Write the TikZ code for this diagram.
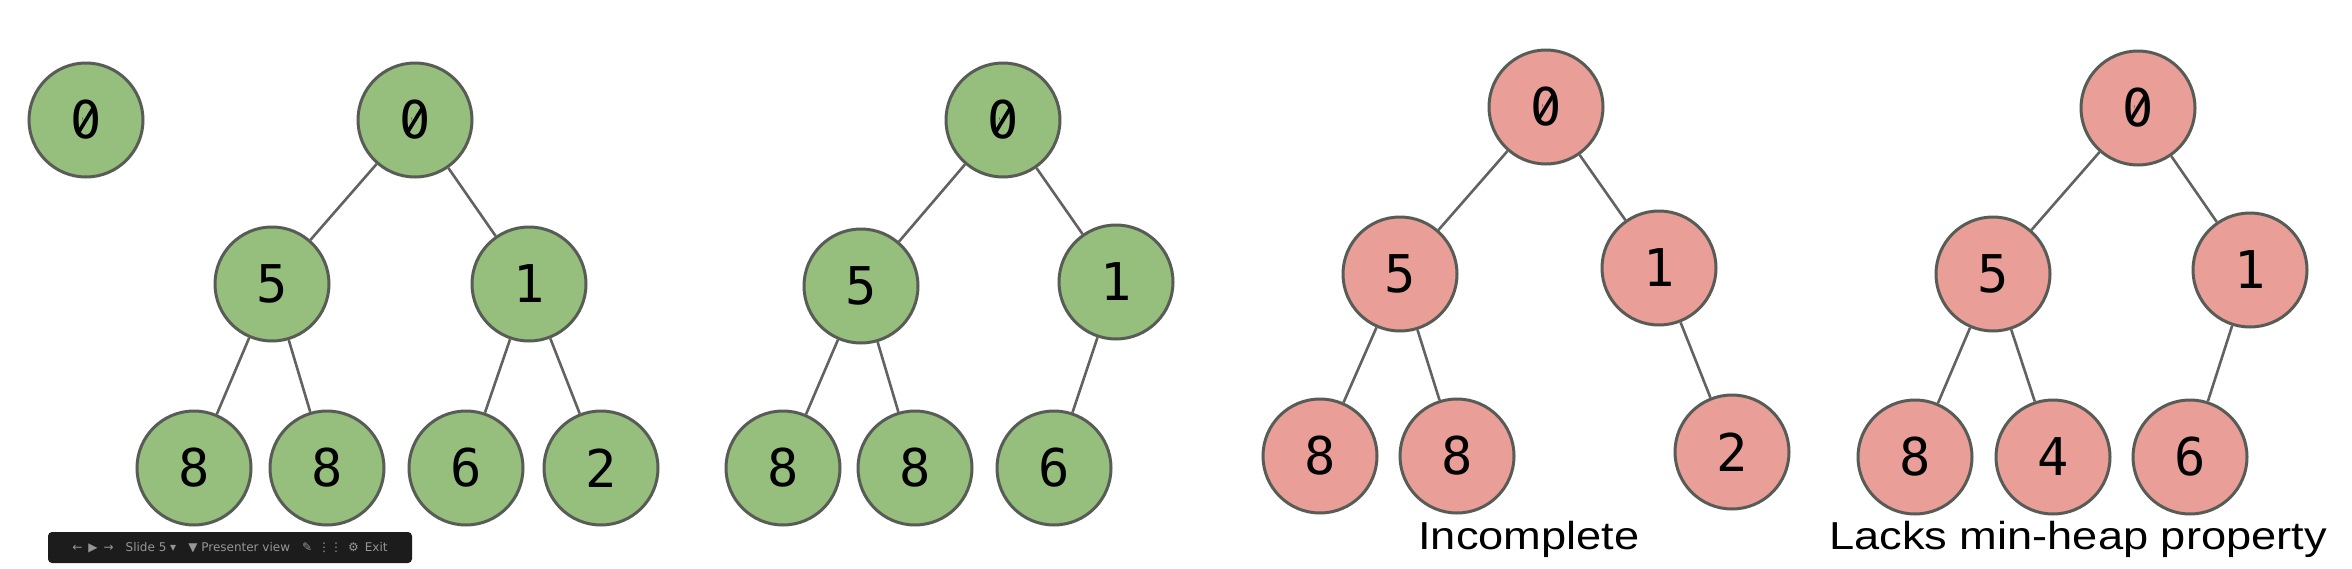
\documentclass[tikz,border=0pt]{standalone}
\usepackage{fontspec}
\setmainfont{Liberation Sans}
\newfontfamily\keyfont{DejaVu Sans Mono}
\newfontfamily\captionfont[FakeStretch=1.16]{Liberation Sans}
\newfontfamily\barfont{DejaVu Sans}
\usepackage{tikz}
\definecolor{heapgreen}{RGB}{150,190,125}
\definecolor{heappink}{RGB}{233,158,152}
\definecolor{rimgray}{RGB}{88,92,86}
\definecolor{edgegray}{RGB}{98,98,98}
\definecolor{barblack}{RGB}{28,28,28}
\definecolor{bartext}{RGB}{150,150,150}
\tikzset{
  heapkey/.style={circle,draw=rimgray,line width=1.5pt,inner sep=0pt,minimum size=57pt,
    font=\keyfont\fontsize{26}{30}\selectfont},
  good/.style={heapkey,fill=heapgreen},
  bad/.style={heapkey,fill=heappink},
  link/.style={draw=edgegray,line width=1.3pt},
  caption/.style={anchor=base,inner sep=0pt,font=\captionfont\fontsize{19.5}{24}\selectfont}
}
% turns the dotted zero of the key font into a slashed one
\newcommand\slashzero[2]{%
  \fill[#2] (#1.center) ellipse[x radius=1.8pt,y radius=3.8pt];
  \draw[line width=1.8pt,line cap=round] ([shift={(-3.4pt,-5.6pt)}]#1.center)
    -- ([shift={(3.4pt,5.6pt)}]#1.center);}

\begin{document}
\begin{tikzpicture}[x=0.5pt,y=-0.5pt]
\useasboundingbox[fill=white] (0,0) rectangle (2352,568);

\node[good] (a0) at (86,120) {0};

\node[good] (b0) at (415,120) {0};
\node[good] (b5) at (272,284) {5};
\node[good] (b1) at (529,284) {1};
\node[good] (b8) at (194,468) {8};
\node[good] (b8r) at (327,468) {8};
\node[good] (b6) at (466,468) {6};
\node[good] (b2) at (601,468) {2};
\draw[link] (b0) -- (b5) (b0) -- (b1) (b5) -- (b8) (b5) -- (b8r) (b1) -- (b6) (b1) -- (b2);

\node[good] (c0) at (1003,120) {0};
\node[good] (c5) at (861,286) {5};
\node[good] (c1) at (1116,282) {1};
\node[good] (c8) at (783,468) {8};
\node[good] (c8r) at (915,468) {8};
\node[good] (c6) at (1054,468) {6};
\draw[link] (c0) -- (c5) (c0) -- (c1) (c5) -- (c8) (c5) -- (c8r) (c1) -- (c6);

\node[bad] (d0) at (1546,107) {0};
\node[bad] (d5) at (1400,274) {5};
\node[bad] (d1) at (1659,268) {1};
\node[bad] (d8) at (1320,456) {8};
\node[bad] (d8r) at (1457,456) {8};
\node[bad] (d2) at (1732,452) {2};
\draw[link] (d0) -- (d5) (d0) -- (d1) (d5) -- (d8) (d5) -- (d8r) (d1) -- (d2);
\node[caption] (incomplete) at (1529,549) {Incomplete};

\node[bad] (e0) at (2138,108) {0};
\node[bad] (e5) at (1993,274) {5};
\node[bad] (e1) at (2250,270) {1};
\node[bad] (e8) at (1915,457) {8};
\node[bad] (e4) at (2053,457) {4};
\node[bad] (e6) at (2190,457) {6};
\draw[link] (e0) -- (e5) (e0) -- (e1) (e5) -- (e8) (e5) -- (e4) (e1) -- (e6);
\node[caption] (lacks) at (2078,549) {Lacks min-heap property};

\foreach \z/\c in {a0/heapgreen,b0/heapgreen,c0/heapgreen,d0/heappink,e0/heappink}
  {\slashzero{\z}{\c}}

\node[fill=barblack,rounded corners=2pt,minimum width=182pt,minimum height=15.5pt,inner sep=0pt,
  text=bartext,font=\barfont\fontsize{6}{7}\selectfont] (toolbar) at (230,547.5)
  {←\enspace ▶\enspace →\quad Slide 5 ▾\quad ▼ Presenter view\quad ✎\enspace ⋮⋮\enspace ⚙\enspace Exit};
\end{tikzpicture}
\end{document}
